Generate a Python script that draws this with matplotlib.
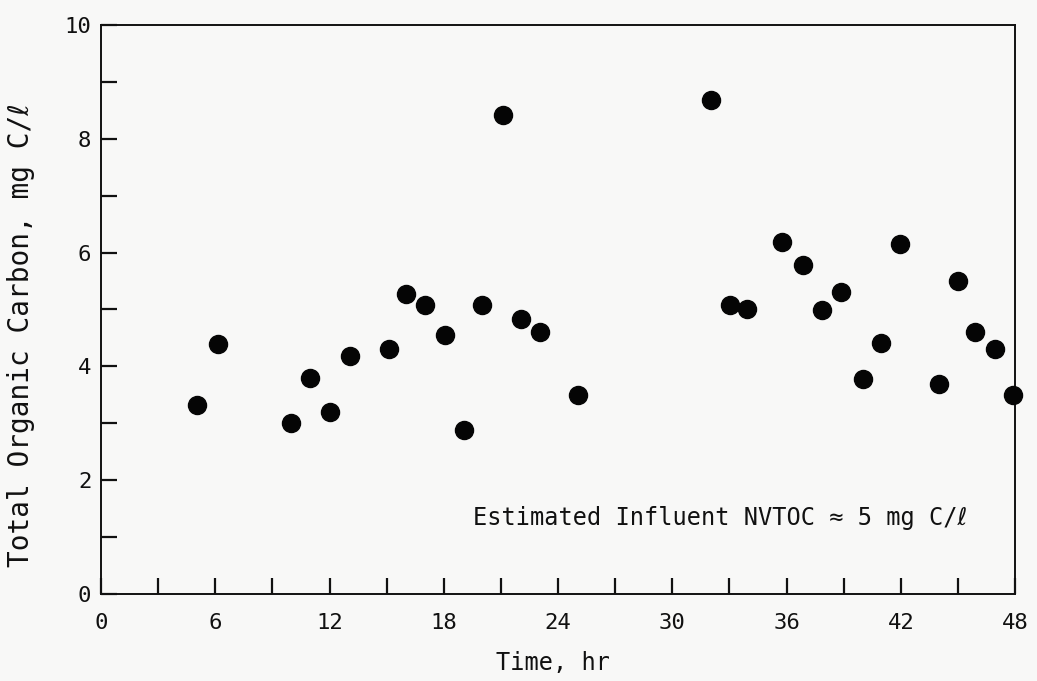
import matplotlib
matplotlib.use("Agg")
import matplotlib.pyplot as plt
from matplotlib.ticker import MultipleLocator

# time (hr) and total organic carbon (mg C/l)
time_hr = [5.05, 6.15, 10.0, 11.0, 12.05, 13.05, 15.15, 16.0, 17.0, 18.05,
           19.05, 20.0, 21.1, 22.05, 23.05, 25.05, 32.05, 33.05, 33.95, 35.75,
           36.85, 37.85, 38.85, 40.0, 40.95, 41.95, 44.0, 45.0, 45.9, 46.95, 47.9]
toc = [3.32, 4.39, 3.0, 3.80, 3.19, 4.19, 4.30, 5.28, 5.07, 4.55,
       2.88, 5.08, 8.41, 4.83, 4.60, 3.50, 8.69, 5.08, 5.00, 6.19,
       5.79, 4.99, 5.30, 3.78, 4.41, 6.15, 3.69, 5.50, 4.60, 4.30, 3.49]

x_ticks = [0, 6, 12, 18, 24, 30, 36, 42, 48]
y_ticks = [0, 2, 4, 6, 8, 10]

ink = "#111111"
paper = "#f8f8f7"
plt.rcParams["font.family"] = ["DejaVu Sans Mono", "DejaVu Sans"]

fig = plt.figure(figsize=(10.37, 6.81), dpi=100, facecolor=paper)
ax = fig.add_axes([0.0974, 0.1278, 0.8814, 0.8355])
ax.set_facecolor(paper)

ax.plot(time_hr, toc, "o", color="#050505", markersize=13, linestyle="none",
        clip_on=False, zorder=3)

ax.set_xlim(0, 48)
ax.set_ylim(0, 10)
ax.set_xticks(x_ticks)
ax.set_yticks(y_ticks)
ax.xaxis.set_minor_locator(MultipleLocator(3))
ax.yaxis.set_minor_locator(MultipleLocator(1))

for s in ax.spines.values():
    s.set_color(ink)
    s.set_linewidth(1.4)

ax.tick_params(which="both", direction="in", length=11.5, width=1.6,
               color=ink, top=False, right=False)
ax.tick_params(axis="x", which="major", pad=14, labelsize=16, labelcolor=ink)
ax.tick_params(axis="y", which="major", pad=7, labelsize=16, labelcolor=ink)

ax.set_xlabel("Time, hr", fontsize=17, color=ink)
ax.xaxis.set_label_coords(0.494, -0.10)
ax.set_ylabel("Total Organic Carbon, mg C/\u2113", fontsize=20, color=ink)
ax.yaxis.set_label_coords(-0.072, 0.455)

ax.text(19.55, 1.33, "Estimated Influent NVTOC \u2248 5 mg C/\u2113",
        fontsize=17, color=ink, ha="left", va="center")

fig.savefig("out.png", dpi=100, facecolor=paper)
